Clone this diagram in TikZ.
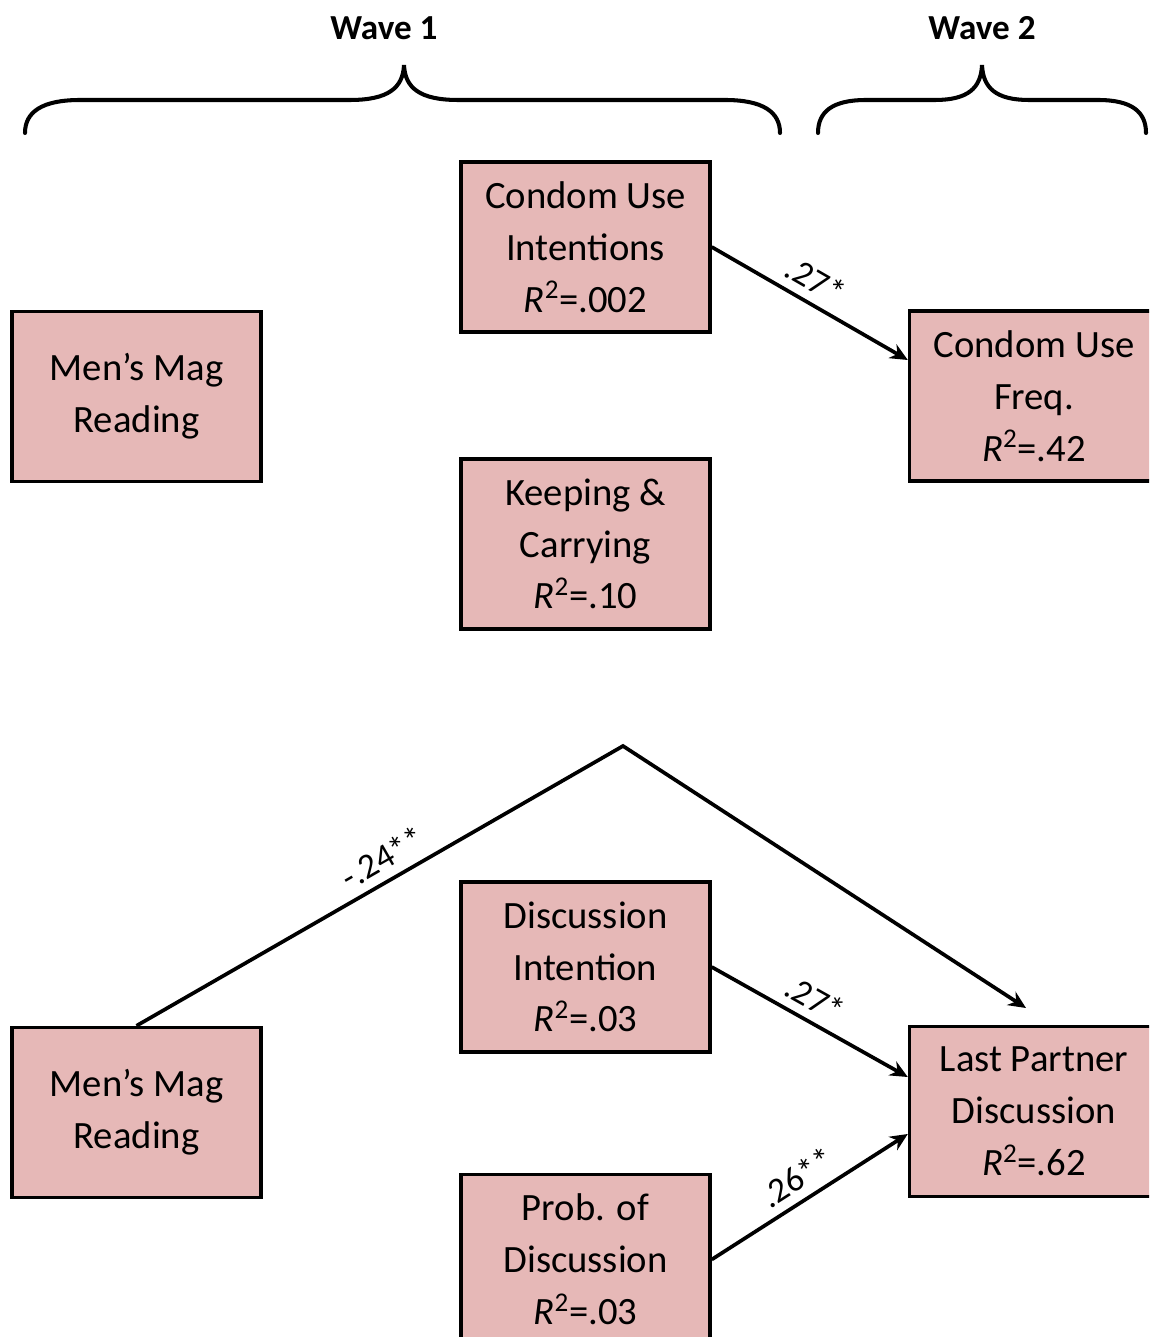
\documentclass[tikz,border=0pt]{standalone}
\usepackage{fontspec}
\setmainfont{Carlito}
\usetikzlibrary{arrows.meta}
\definecolor{boxpink}{HTML}{E6B8B7}

\begin{document}
\begin{tikzpicture}[x=0.02cm, y=-0.02cm,
		var/.style={draw=black, fill=boxpink, line width=2pt, minimum width=4.98cm, minimum height=3.4cm, inner sep=0, align=center, font=\fontsize{22}{29.5}\selectfont},
		effect/.style={line width=2.1pt, -{Stealth[length=10pt, width=9pt]}},
		coef/.style={font=\fontsize{20}{22}\selectfont, sloped, above, inner sep=5pt},
		wave/.style={font=\bfseries\fontsize{20}{24}\selectfont},
		brace/.style={line width=2.3pt, line cap=round}]
		\useasboundingbox (0, 0) rectangle (1149, 1337);
		\clip (0, 0) rectangle (1149, 1337);

		% wave headings and braces
		\draw (384, 28) node[wave] (w1) {Wave 1};
		\draw (982, 28) node[wave] (w2) {Wave 2};
		\draw[brace] (25, 133) .. controls (25, 112) and (42, 100) .. (80, 100) -- (350, 100) .. controls (388, 100) and (403, 88) .. (404, 65)
			.. controls (405, 88) and (420, 100) .. (458, 100) -- (725, 100) .. controls (763, 100) and (780, 112) .. (780, 133);
		\draw[brace] (818, 133) .. controls (818, 112) and (832, 100) .. (866, 100) -- (935, 100) .. controls (968, 100) and (981, 88) .. (982, 65)
			.. controls (983, 88) and (996, 100) .. (1029, 100) -- (1098, 100) .. controls (1132, 100) and (1146, 112) .. (1146, 133);

		% condom use model
		\node[var] (cui) at (585.5, 247) {Condom Use\\Intentions\\\textit{R}\textsuperscript{2}=.002};
		\node[var] (mag1) at (136.5, 396.5) {Men’s Mag\\Reading};
		\node[var] (cuf) at (1034, 396) {Condom Use\\Freq.\\\textit{R}\textsuperscript{2}=.42};
		\node[var] (kc) at (585.5, 544) {Keeping \&\\Carrying\\\textit{R}\textsuperscript{2}=.10};
		\draw[effect] (cui.east) -- node[coef, pos=0.47] {.27*} ([yshift=0.72cm]cuf.west);

		% discussion model
		\node[var] (di) at (585.5, 967) {Discussion\\Intention\\\textit{R}\textsuperscript{2}=.03};
		\node[var] (mag2) at (136.5, 1112.5) {Men’s Mag\\Reading};
		\node[var] (lpd) at (1034, 1111.5) {Last Partner\\Discussion\\\textit{R}\textsuperscript{2}=.62};
		\node[var] (pd) at (585.5, 1259.5) {Prob. of\\Discussion\\\textit{R}\textsuperscript{2}=.03};
		\coordinate (apex) at (623, 746);
		\coordinate (lpdtop) at (1026, 1008);
		\draw[effect] (mag2.north) -- node[coef, pos=0.53] {-.24**} (apex) -- (lpdtop);
		\draw[effect] (di.east) -- node[coef, pos=0.47] {.27*} ([yshift=0.69cm]lpd.west);
		\draw[effect] (pd.east) -- node[coef, pos=0.5] {.26**} ([yshift=-0.45cm]lpd.west);
	\end{tikzpicture}
\end{document}
